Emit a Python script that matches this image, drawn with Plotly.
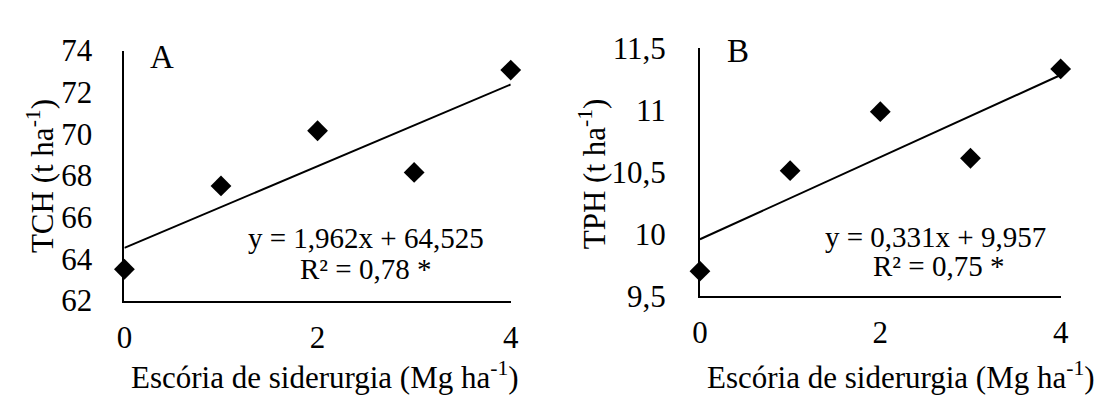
import plotly.graph_objects as go

doses = [0, 1, 2, 3, 4]
tch = [63.5, 67.5, 70.15, 68.15, 73.06]
tph = [9.70, 10.51, 10.985, 10.61, 11.33]

tch_coef = (1.962, 64.525)
tph_coef = (0.331, 9.957)

x_ticks = [0, 2, 4]
tch_ticks = [62, 64, 66, 68, 70, 72, 74]
tph_ticks = [9.5, 10, 10.5, 11, 11.5]
tph_ticktext = ["9,5", "10", "10,5", "11", "11,5"]

W, H = 1105, 399
FONT = "Liberation Serif, Times New Roman, serif"
FS = 31
EQ_FS = 29

def px_x(p):
    return p / W

def px_y(p):
    return 1 - p / H

fig = go.Figure()

line_x = [doses[0], doses[-1]]
fig.add_trace(go.Scatter(x=line_x, y=[tch_coef[1] + tch_coef[0] * v for v in line_x],
                         mode="lines", line=dict(color="black", width=2),
                         xaxis="x", yaxis="y", showlegend=False, cliponaxis=False))
fig.add_trace(go.Scatter(x=doses, y=tch, mode="markers",
                         marker=dict(symbol="diamond", size=16, color="black"),
                         xaxis="x", yaxis="y", showlegend=False, cliponaxis=False))
fig.add_trace(go.Scatter(x=line_x, y=[tph_coef[1] + tph_coef[0] * v for v in line_x],
                         mode="lines", line=dict(color="black", width=2),
                         xaxis="x2", yaxis="y2", showlegend=False, cliponaxis=False))
fig.add_trace(go.Scatter(x=doses, y=tph, mode="markers",
                         marker=dict(symbol="diamond", size=16, color="black"),
                         xaxis="x2", yaxis="y2", showlegend=False, cliponaxis=False))

def axis_common():
    return dict(showgrid=False, zeroline=False, showline=True, linecolor="black",
                linewidth=2, ticks="",
                tickfont=dict(family=FONT, size=FS, color="black"))

fig.update_layout(
    width=W, height=H,
    font=dict(family=FONT, size=FS, color="black"),
    margin=dict(l=0, r=0, t=0, b=0),
    paper_bgcolor="white", plot_bgcolor="white",
    xaxis=dict(domain=[px_x(110), px_x(502)], range=[0, 4], tickvals=x_ticks,
               anchor="y", ticklabelstandoff=8, **axis_common()),
    yaxis=dict(domain=[px_y(302), px_y(28)], range=[62, 74], tickvals=tch_ticks,
               anchor="x", ticklabelstandoff=24, **axis_common()),
    xaxis2=dict(domain=[px_x(694), px_x(1060)], range=[0, 4], tickvals=x_ticks,
                anchor="y2", ticklabelstandoff=8, **axis_common()),
    yaxis2=dict(domain=[px_y(297), px_y(25)], range=[9.5, 11.5], tickvals=tph_ticks,
                ticktext=tph_ticktext, anchor="x2", ticklabelstandoff=26, **axis_common()),
)

def ann(x, y, text, angle=0, size=FS):
    fig.add_annotation(x=px_x(x), y=px_y(y), xref="paper", yref="paper", text=text,
                       showarrow=False, textangle=angle, xanchor="center", yanchor="middle",
                       font=dict(family=FONT, size=size, color="black"))

ann(314, 384, "Escória de siderurgia (Mg ha<sup>-1</sup>)")
ann(898, 384, "Escória de siderurgia (Mg ha<sup>-1</sup>)")
ann(25, 166, "TCH (t ha<sup>-1</sup>)", angle=-90)
ann(585, 163, "TPH (t ha<sup>-1</sup>)", angle=-90)
ann(148, 35, "A", size=33)
ann(733, 29, "B", size=33)
ann(355, 234, "y = 1,962x + 64,525", size=EQ_FS)
ann(355, 267, "R² = 0,78 *", size=EQ_FS)
ann(933, 232, "y = 0,331x + 9,957", size=EQ_FS)
ann(936, 264, "R² = 0,75 *", size=EQ_FS)

fig.write_html("out.html")
